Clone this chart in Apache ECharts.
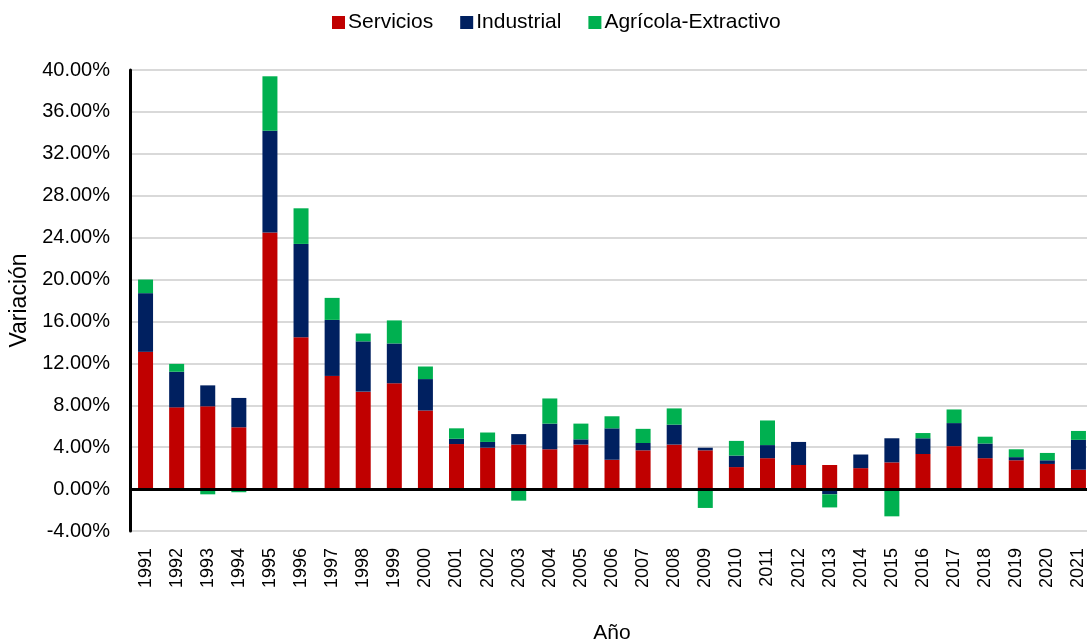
<!DOCTYPE html>
<html>
<head>
<meta charset="utf-8">
<script src="https://cdn.jsdelivr.net/npm/echarts@6/dist/echarts.min.js"></script>
<style>
  html, body { margin: 0; padding: 0; background: #fff; }
  #main { width: 1087px; height: 644px; }
</style>
</head>
<body>
<div id="main"></div>
<script>
// datos (en %)
var years = ['1991','1992','1993','1994','1995','1996','1997','1998','1999','2000',
  '2001','2002','2003','2004','2005','2006','2007','2008','2009','2010',
  '2011','2012','2013','2014','2015','2016','2017','2018','2019','2020','2021'];

var servicios = [13.1, 7.8, 7.9, 5.9, 24.5, 14.5, 10.8, 9.3, 10.1, 7.5,
  4.3, 3.95, 4.25, 3.8, 4.25, 2.8, 3.7, 4.25, 3.7, 2.1,
  2.95, 2.3, 2.3, 2.0, 2.55, 3.35, 4.1, 2.95, 2.75, 2.4, 1.85];

var industrial = [5.6, 3.4, 2.0, 2.8, 9.7, 8.9, 5.35, 4.8, 3.8, 3.0,
  0.5, 0.55, 1.0, 2.45, 0.5, 3.0, 0.7, 1.9, 0.25, 1.1,
  1.25, 2.2, -0.5, 1.3, 2.3, 1.5, 2.2, 1.4, 0.3, 0.35, 2.85];

var agricola = [1.3, 0.75, -0.5, -0.3, 5.2, 3.4, 2.1, 0.75, 2.2, 1.2,
  1.0, 0.9, -1.1, 2.4, 1.5, 1.15, 1.35, 1.55, -1.8, 1.4,
  2.35, 0, -1.25, 0, -2.6, 0.5, 1.3, 0.65, 0.75, 0.7, 0.85];

var yTicks = { min: -4, max: 40, step: 4 };

var fontFam = '"Liberation Sans", Arial, sans-serif';
var myChart = echarts.init(document.getElementById('main'));

var option = {
  animation: false,
  textStyle: { fontFamily: fontFam },
  legend: {
    top: 7,
    left: 327,
    itemWidth: 13,
    itemHeight: 13,
    itemGap: 27,
    icon: 'rect',
    textStyle: { fontSize: 21, color: '#000', fontFamily: fontFam, padding: [0, 0, 0, -2] },
    data: ['Servicios', 'Industrial', 'Agrícola-Extractivo']
  },
  grid: { left: 130, top: 70, width: 964, height: 461, containLabel: false, outerBoundsMode: 'none' },
  xAxis: {
    type: 'category',
    data: years,
    name: 'Año',
    nameLocation: 'middle',
    nameGap: 92,
    nameTextStyle: { fontSize: 21, color: '#000', fontFamily: fontFam },
    axisLine: { show: false },
    axisTick: { show: false },
    axisLabel: { rotate: 90, fontSize: 18, color: '#000', margin: 17, fontFamily: fontFam, interval: 0 }
  },
  yAxis: {
    type: 'value',
    min: yTicks.min,
    max: yTicks.max,
    interval: yTicks.step,
    name: 'Variación',
    nameLocation: 'middle',
    nameGap: 99,
    nameTextStyle: { fontSize: 23, color: '#000', fontFamily: fontFam },
    axisLine: { show: true, lineStyle: { color: '#000', width: 3 } },
    axisTick: { show: false },
    axisLabel: {
      fontSize: 20, color: '#000', margin: 20, fontFamily: fontFam,
      formatter: function (v) { return v.toFixed(2) + '%'; }
    },
    splitLine: { lineStyle: { color: '#d9d9d9', width: 2 } }
  },
  series: [{
    name: 'Servicios',
    type: 'bar',
    stack: 'total',
    barWidth: 15,
    itemStyle: { color: '#C00000' },
    data: servicios,
    markLine: {
      silent: true,
      symbol: 'none',
      label: { show: false },
      lineStyle: { color: '#000', width: 3, type: 'solid' },
      data: [{ yAxis: 0 }],
      z: 10
    }
  }, {
    name: 'Industrial',
    type: 'bar',
    stack: 'total',
    barWidth: 15,
    itemStyle: { color: '#002060' },
    data: industrial
  }, {
    name: 'Agrícola-Extractivo',
    type: 'bar',
    stack: 'total',
    barWidth: 15,
    itemStyle: { color: '#00B050' },
    data: agricola
  }]
};

myChart.setOption(option);
</script>
</body>
</html>
